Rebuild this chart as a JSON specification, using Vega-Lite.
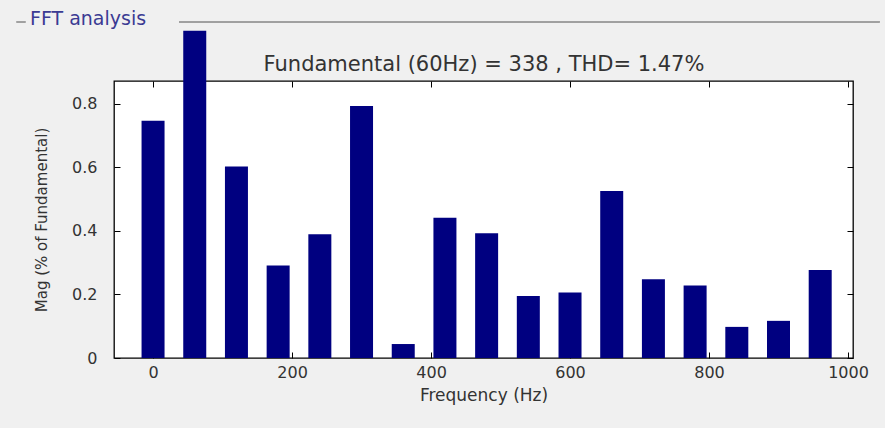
{
  "$schema": "https://vega.github.io/schema/vega-lite/v6.json",
  "width": 739,
  "height": 277,
  "autosize": {"type": "none"},
  "padding": {"left": 114, "top": 81, "right": 32, "bottom": 70},
  "background": "#f0f0f0",
  "config": {
    "view": {"fill": "white", "stroke": "black", "strokeWidth": 1.3},
    "font": "DejaVu Sans"
  },
  "title": {
    "text": "FFT analysis",
    "anchor": "start",
    "frame": "group",
    "orient": "top",
    "dx": -84,
    "dy": 8,
    "offset": 0,
    "fontSize": 19,
    "font": "DejaVu Sans",
    "fontWeight": "normal",
    "color": "#3b3b93"
  },
  "data": {
    "values": [
      {"freq": 0, "mag": 0.747},
      {"freq": 60, "mag": 1.031},
      {"freq": 120, "mag": 0.603},
      {"freq": 180, "mag": 0.291},
      {"freq": 240, "mag": 0.39},
      {"freq": 300, "mag": 0.794},
      {"freq": 360, "mag": 0.044},
      {"freq": 420, "mag": 0.442},
      {"freq": 480, "mag": 0.393},
      {"freq": 540, "mag": 0.195},
      {"freq": 600, "mag": 0.206},
      {"freq": 660, "mag": 0.526},
      {"freq": 720, "mag": 0.248},
      {"freq": 780, "mag": 0.228},
      {"freq": 840, "mag": 0.098},
      {"freq": 900, "mag": 0.117},
      {"freq": 960, "mag": 0.277}
    ]
  },
  "layer": [
    {
      "mark": {"type": "bar", "size": 23, "color": "#000080", "clip": false},
      "encoding": {
        "x": {
          "field": "freq",
          "type": "quantitative",
          "scale": {"domain": [-49, 1000], "nice": false, "zero": false},
          "axis": {
            "orient": "bottom",
            "values": [0, 200, 400, 600, 800, 1000],
            "format": "d",
            "domain": false,
            "grid": false,
            "tickSize": -6,
            "tickColor": "black",
            "labelPadding": 12,
            "labelFontSize": 16,
            "labelColor": "#333333",
            "title": "Frequency (Hz)",
            "titleFontSize": 17,
            "titleFontWeight": "normal",
            "titleColor": "#333333",
            "titlePadding": 7
          }
        },
        "y": {
          "field": "mag",
          "type": "quantitative",
          "scale": {"domain": [0, 0.8724], "nice": false},
          "axis": {
            "orient": "left",
            "values": [0, 0.2, 0.4, 0.6, 0.8],
            "format": "~g",
            "domain": false,
            "grid": false,
            "tickSize": -6,
            "tickColor": "black",
            "labelPadding": 23,
            "labelFontSize": 16,
            "labelColor": "#333333",
            "title": "Mag (% of Fundamental)",
            "titleFontSize": 15,
            "titleFontWeight": "normal",
            "titleColor": "#333333",
            "titlePadding": 22
          }
        }
      }
    },
    {
      "mark": {"type": "bar", "size": 23, "opacity": 0},
      "encoding": {
        "x": {
          "field": "freq",
          "type": "quantitative",
          "scale": {"domain": [-49, 1000], "nice": false, "zero": false},
          "axis": {
            "orient": "top",
            "values": [0, 200, 400, 600, 800, 1000],
            "labels": false,
            "domain": false,
            "grid": false,
            "tickSize": -6,
            "tickColor": "black",
            "title": "Fundamental (60Hz) = 338 , THD= 1.47%",
            "titleFontSize": 21,
            "titleFontWeight": "normal",
            "titleColor": "#333333",
            "titlePadding": 6
          }
        },
        "y": {
          "field": "mag",
          "type": "quantitative",
          "scale": {"domain": [0, 0.8724], "nice": false},
          "axis": {
            "orient": "right",
            "values": [0, 0.2, 0.4, 0.6, 0.8],
            "labels": false,
            "domain": false,
            "grid": false,
            "tickSize": -6,
            "tickColor": "black",
            "title": null
          }
        }
      }
    },
    {
      "mark": {"type": "rule", "color": "#a0a0a0", "strokeWidth": 1, "clip": false},
      "encoding": {
        "x": {"datum": -196, "axis": null},
        "x2": {"datum": -184},
        "y": {"datum": 1.0583, "axis": null}
      }
    },
    {
      "mark": {"type": "rule", "color": "#a0a0a0", "strokeWidth": 1, "clip": false},
      "encoding": {
        "x": {"datum": 37.6, "axis": null},
        "x2": {"datum": 1045},
        "y": {"datum": 1.0583, "axis": null}
      }
    }
  ],
  "resolve": {"axis": {"x": "independent", "y": "independent"}}
}
